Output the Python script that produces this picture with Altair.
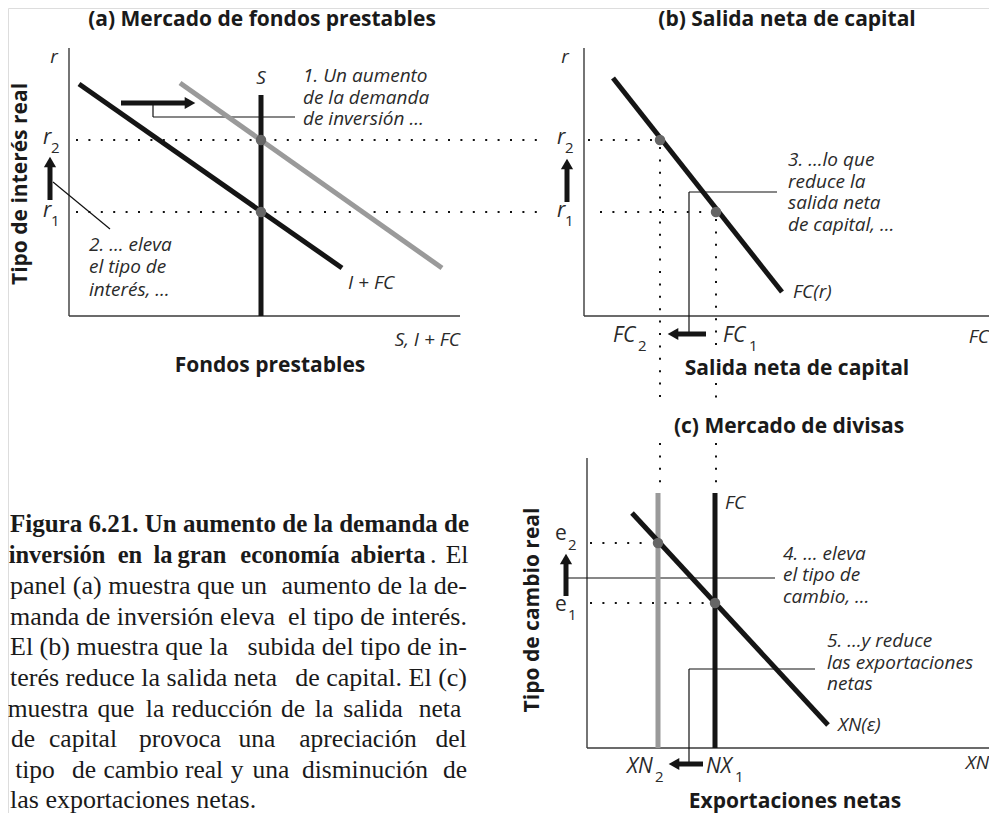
import altair as alt
import pandas as pd

W, H = 981, 805
OX, OY = 8, 8

# ---- diagram geometry (in page pixels) ----
curves_black = [(79, 84, 342, 268), (261, 95, 261, 316), (613, 78, 782, 292),
                (632, 513, 828, 725), (715, 493, 715, 748)]
curves_gray = [(180, 83, 442, 268), (658, 493, 658, 748)]
axes_lines = [(69, 48, 69, 316), (69, 316, 460, 316), (584, 48, 584, 316),
              (584, 316, 989, 316), (587, 458, 587, 748), (587, 748, 989, 748)]
leaders = [(53, 182, 110, 229), (153, 103, 153, 117), (153, 117, 295, 117),
           (777, 192, 689, 192), (689, 192, 689, 334), (567, 578, 775, 578),
           (815, 669, 689, 669), (689, 669, 689, 764)]
dotted = [(76, 140, 545, 140), (588, 140, 655, 140), (76, 212, 545, 212),
          (600, 212, 711, 212), (660, 147, 660, 407), (660, 443, 660, 483),
          (716, 219, 716, 350), (716, 383, 716, 407), (716, 443, 716, 483),
          (590, 543, 652, 543), (590, 603, 709, 603)]
equilibria = [(261, 140), (261, 212), (660, 140), (716, 212), (658, 543), (715, 603)]
arrow_shafts = [(121, 103, 186, 103), (50, 200, 50, 166), (567, 202, 567, 166),
                (706, 334, 676, 334), (566, 596, 566, 563), (703, 764, 677, 764)]
arrow_heads = [(190, 103, "triangle-right"), (50, 162, "triangle-up"),
               (567, 164, "triangle-up"), (673, 334, "triangle-left"),
               (566, 559, "triangle-up"), (674, 764, "triangle-left")]

# ---- texts ----
panel_titles = [(262, 20, "(a) Mercado de fondos prestables"),
                (787, 20, "(b) Salida neta de capital"),
                (789, 427, "(c) Mercado de divisas"),
                (270, 366, "Fondos prestables"),
                (797, 369, "Salida neta de capital"),
                (795, 802, "Exportaciones netas")]
rotated_titles = [(21, 184, "Tipo de interés real"), (533, 610, "Tipo de cambio real")]
labels_left = [(303, 76, "1. Un aumento"), (303, 98, "de la demanda"), (303, 119, "de inversión …"),
               (89, 245, "2. … eleva"), (89, 267, "el tipo de"), (89, 290, "interés, …"),
               (348, 283, "I + FC"),
               (788, 160, "3. …lo que"), (788, 182, "reduce la"), (788, 203, "salida neta"),
               (788, 225, "de capital, …"), (793, 292, "FC(r)"),
               (725, 503, "FC"),
               (783, 554, "4. … eleva"), (783, 575, "el tipo de"), (783, 597, "cambio, …"),
               (827, 641, "5. …y reduce"), (827, 663, "las exportaciones"), (827, 684, "netas"),
               (838, 725, "XN(ε)")]
labels_center = [(54, 57, "r"), (261, 78, "S"), (565, 57, "r")]
labels_right = [(460, 340, "S, I + FC"), (989, 337, "FC"), (989, 763, "XN")]
sub_main = [(43, 144, "r"), (43, 217, "r"), (557, 144, "r"), (557, 217, "r"),
            (613, 342, "FC"), (723, 342, "FC"), (627, 773, "XN"), (706, 773, "NX")]
sub_main_upright = [(555, 540, "e"), (555, 611, "e")]
sub_digits = [(51, 153, "2"), (51, 226, "1"), (565, 153, "2"), (565, 226, "1"),
              (638, 351, "2"), (749, 351, "1"), (655, 782, "2"), (735, 782, "1"),
              (568, 550, "2"), (568, 620, "1")]

# caption (justified text: word centres)
caption_bold_left = [(10, 532, "Figura 6.21. Un aumento de la demanda de")]
caption_bold_words = [(57, 563, "inversión"), (130, 563, "en"), (163, 563, "la"),
                      (202, 563, "gran"), (290, 563, "economía"), (388, 563, "abierta")]
caption_left = [(430, 563, "."),
                (10, 594, "panel (a) muestra que un"),
                (10, 625, "manda de inversión eleva"),
                (10, 655, "El (b) muestra que la"),
                (10, 686, "terés reduce la salida neta"),
                (10, 808, "las exportaciones netas.")]
caption_right = [(467, 594, "aumento de la de-"),
                 (467, 625, "el tipo de interés."),
                 (467, 655, "subida del tipo de in-"),
                 (467, 686, "de capital. El (c)")]
caption_words = [(457, 563, "El"),
                 (48, 717, "muestra"), (116, 717, "que"), (155, 717, "la"),
                 (222, 717, "reducción"), (293, 717, "de"), (324, 717, "la"),
                 (373, 717, "salida"), (440, 717, "neta"),
                 (23, 747, "de"), (83, 747, "capital"), (180, 747, "provoca"),
                 (257, 747, "una"), (358, 747, "apreciación"), (451, 747, "del"),
                 (35, 778, "tipo"), (84, 778, "de"), (141, 778, "cambio"),
                 (204, 778, "real"), (237, 778, "y"), (271, 778, "una"),
                 (365, 778, "disminución"), (455, 778, "de")]

SANS = "Open Sans"
SERIF = "Liberation Serif"

XS = alt.Scale(domain=[OX, OX + W], nice=False, zero=False)
YS = alt.Scale(domain=[OY, OY + H], nice=False, zero=False, reverse=True)
X = alt.X("x:Q", scale=XS, axis=None)
Y = alt.Y("y:Q", scale=YS, axis=None)


def rules(segs, **kw):
    df = pd.DataFrame(segs, columns=["x", "y", "x2", "y2"])
    return alt.Chart(df).mark_rule(**kw).encode(x=X, y=Y, x2="x2:Q", y2="y2:Q")


def texts(items, **kw):
    df = pd.DataFrame(items, columns=["x", "y", "t"])
    return alt.Chart(df).mark_text(**kw).encode(x=X, y=Y, text="t:N")


INK = "#1a1a1a"
LAB = "#2a2a2a"
layers = [
    rules(axes_lines, color="#3a3a3a", strokeWidth=1.4),
    rules(dotted, color="#111111", strokeWidth=2, strokeDash=[2, 10.4]),
    rules(leaders, color="#111111", strokeWidth=1.2),
    rules(curves_gray, color="#9a9a9a", strokeWidth=5),
    rules(curves_black, color="#151515", strokeWidth=5),
    rules(arrow_shafts, color="#151515", strokeWidth=5),
    alt.Chart(pd.DataFrame(arrow_heads, columns=["x", "y", "s"])).mark_point(
        filled=True, size=150, color="#151515", opacity=1).encode(
        x=X, y=Y, shape=alt.Shape("s:N", scale=None)),
    alt.Chart(pd.DataFrame(equilibria, columns=["x", "y"])).mark_circle(
        size=110, color="#666666", opacity=1).encode(x=X, y=Y),
    texts(panel_titles, font=SANS, fontSize=21, fontWeight="bold", align="center",
          baseline="middle", color=INK),
    texts(rotated_titles, font=SANS, fontSize=21, fontWeight="bold", align="center",
          baseline="middle", angle=270, color=INK),
    texts(labels_left, font=SANS, fontSize=19, fontStyle="italic", align="left",
          baseline="middle", color=LAB),
    texts(labels_center, font=SANS, fontSize=19, fontStyle="italic", align="center",
          baseline="middle", color=LAB),
    texts(labels_right, font=SANS, fontSize=19, fontStyle="italic", align="right",
          baseline="middle", color=LAB),
    texts(sub_main, font=SANS, fontSize=21, fontStyle="italic", align="left",
          baseline="alphabetic", color=LAB),
    texts(sub_main_upright, font=SANS, fontSize=21, align="left",
          baseline="alphabetic", color=LAB),
    texts(sub_digits, font=SANS, fontSize=15, align="left",
          baseline="alphabetic", color=LAB),
    texts(caption_bold_left, font=SERIF, fontSize=25, fontWeight="bold", align="left",
          baseline="alphabetic", color=INK),
    texts(caption_bold_words, font=SERIF, fontSize=24.5, fontWeight="bold", align="center",
          baseline="alphabetic", color=INK),
    texts(caption_left, font=SERIF, fontSize=26, align="left",
          baseline="alphabetic", color=INK),
    texts(caption_right, font=SERIF, fontSize=26, align="right",
          baseline="alphabetic", color=INK),
    texts(caption_words, font=SERIF, fontSize=25.5, align="center",
          baseline="alphabetic", color=INK),
]

chart = alt.layer(*layers).properties(
    width=W, height=H, padding=0,
    autosize=alt.AutoSizeParams(type="none"),
).configure_view(stroke=None).configure(background="white")

chart.save("out.html", embed_options={"renderer": "svg", "actions": False})
